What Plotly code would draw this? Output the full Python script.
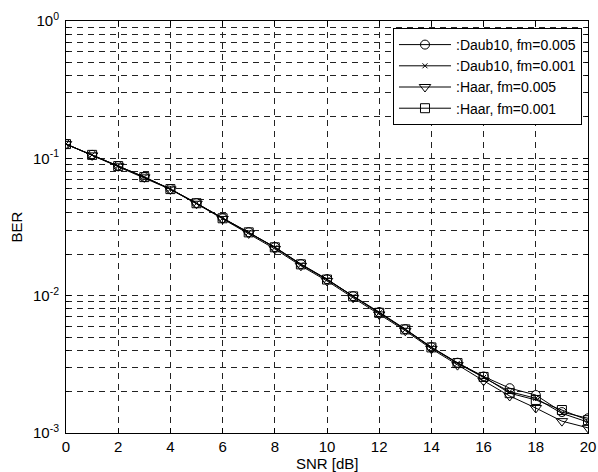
import plotly.graph_objects as go

snr = list(range(0, 21))

daub10_fm005 = [0.127, 0.106, 0.0879, 0.0731, 0.0598, 0.0472, 0.0367, 0.0290, 0.0226, 0.0170,
                0.0132, 0.00993, 0.0076, 0.00571, 0.00422, 0.00325, 0.00258, 0.00212, 0.00189, 0.00142, 0.00128]
daub10_fm001 = [0.127, 0.106, 0.0877, 0.0729, 0.0597, 0.0470, 0.0366, 0.0289, 0.0224, 0.0168,
                0.0131, 0.00985, 0.0075, 0.00566, 0.00418, 0.00322, 0.00254, 0.00200, 0.00179, 0.00139, 0.00120]
haar_fm005 = [0.127, 0.105, 0.0875, 0.0727, 0.0594, 0.0467, 0.0362, 0.0284, 0.0219, 0.0165,
              0.0128, 0.00965, 0.0073, 0.00555, 0.00410, 0.00312, 0.00240, 0.00186, 0.00152, 0.00122, 0.00109]
haar_fm001 = [0.127, 0.106, 0.0878, 0.0730, 0.0597, 0.0471, 0.0366, 0.0289, 0.0225, 0.0169,
              0.0131, 0.00988, 0.0075, 0.00568, 0.00420, 0.00323, 0.00256, 0.00195, 0.00174, 0.00147, 0.00124]

series = [
    (":Daub10, fm=0.005", daub10_fm005, "circle-open", 9),
    (":Daub10, fm=0.001", daub10_fm001, "x-thin-open", 5),
    (":Haar, fm=0.005", haar_fm005, "triangle-down-open", 10),
    (":Haar, fm=0.001", haar_fm001, "square-open", 9),
]

xticks = list(range(0, 21, 2))
ytickvals = [1e-3, 1e-2, 1e-1, 1e0]
yticktext = ["10<sup>-3</sup>", "10<sup>-2</sup>", "10<sup>-1</sup>", "10<sup>0</sup>"]
yminor = [m * 10.0 ** e for e in (-3, -2, -1) for m in range(2, 10)]
x_title = "SNR [dB]"
y_title = "BER"

fig = go.Figure()
for name, vals, sym, sz in series:
    fig.add_trace(go.Scatter(
        x=snr, y=vals, name=name, mode="lines+markers",
        line=dict(color="black", width=1),
        marker=dict(symbol=sym, size=sz, color="black", line=dict(color="black", width=1)),
    ))

font = dict(family="Liberation Sans, Arial, sans-serif", size=15, color="black")
grid_kw = dict(showgrid=True, gridcolor="#222", griddash="6px,5px", gridwidth=0.5)
fig.update_layout(
    width=598, height=472,
    margin=dict(l=66, r=10, t=21, b=39, autoexpand=False),
    paper_bgcolor="white", plot_bgcolor="white",
    font=font,
    showlegend=True,
    legend=dict(x=0.9885, y=0.983, xanchor="right", yanchor="top",
                bgcolor="white", bordercolor="black", borderwidth=1,
                font=dict(family="Liberation Sans, Arial, sans-serif", size=14, color="black"),
                itemwidth=52, tracegroupgap=0),
    xaxis=dict(
        range=[0, 20], tickmode="array", tickvals=xticks, automargin=False,
        ticks="inside", ticklen=5, tickcolor="black", ticklabelstandoff=0,
        showline=True, linecolor="black", linewidth=1, mirror="allticks",
        zeroline=False,
        **grid_kw,
    ),
    yaxis=dict(
        type="log", range=[-3, 0], tickmode="array", tickvals=ytickvals, ticktext=yticktext,
        automargin=False,
        ticks="inside", ticklen=5, tickcolor="black", ticklabelstandoff=3,
        showline=True, linecolor="black", linewidth=1, mirror="allticks",
        zeroline=False,
        minor=dict(tickmode="array", tickvals=yminor, ticks="inside", ticklen=3, tickcolor="black",
                   showgrid=True, gridcolor="#222", griddash="6px,5px", gridwidth=0.5),
        title=dict(text=y_title, standoff=6, font=font),
        **grid_kw,
    ),
    annotations=[dict(text=x_title, xref="paper", yref="paper", x=0.5, y=0,
                      xanchor="center", yanchor="middle", yshift=-30, borderpad=0,
                      showarrow=False, font=font)],
)

fig.write_html("out.html")
